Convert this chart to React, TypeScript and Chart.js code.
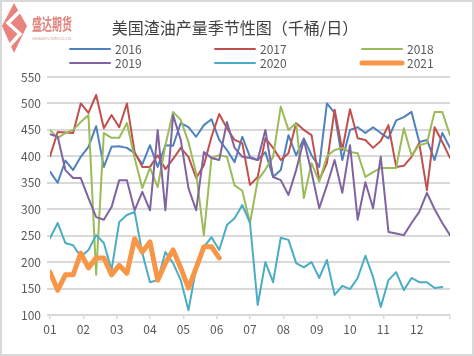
import React, { useEffect, useRef } from "react";
import { Chart, registerables } from "chart.js";

Chart.register(...registerables);

const TITLE = "美国渣油产量季节性图（千桶/日）";
const LOGO_CN = "盛达期货";
const LOGO_EN = "SHENGDA FUTURES CO.,LTD.";
const MONTHS = ["01", "02", "03", "04", "05", "06", "07", "08", "09", "10", "11", "12"];
const WEEKS_PER_YEAR = 52;
const Y_TICKS = { min: 100, max: 550, step: 50 };

const YEARS = ["2016", "2017", "2018", "2019", "2020", "2021"];
const COLORS = ["#4F81BD", "#C0504D", "#9BBB59", "#8064A2", "#4BACC6", "#F79646"];

const S2016 = [371, 350, 392, 374, 399, 418, 457, 380, 418, 419, 416, 406, 385, 421, 380, 421, 420, 463, 455, 437, 459, 470, 431, 412, 389, 437, 399, 393, 408, 361, 374, 440, 402, 434, 402, 380, 500, 482, 393, 450, 455, 444, 455, 444, 434, 468, 474, 484, 427, 431, 393, 444, 416];
const S2017 = [400, 446, 445, 444, 500, 482, 516, 453, 478, 455, 500, 408, 380, 380, 402, 376, 395, 416, 399, 359, 383, 437, 480, 453, 431, 425, 346, 361, 434, 416, 393, 406, 463, 450, 440, 355, 387, 488, 412, 489, 434, 431, 416, 429, 459, 380, 382, 399, 425, 336, 455, 427, 397];
const S2018 = [450, 435, 444, 450, 465, 478, 176, 444, 435, 435, 463, 397, 340, 378, 342, 421, 484, 469, 427, 368, 251, 397, 402, 399, 345, 335, 274, 355, 375, 399, 494, 450, 463, 321, 387, 352, 400, 412, 416, 408, 406, 361, 370, 378, 378, 378, 453, 402, 421, 425, 484, 484, 440];
const S2019 = [442, 437, 374, 359, 359, 321, 285, 280, 304, 355, 355, 298, 333, 298, 450, 298, 478, 431, 340, 298, 408, 397, 393, 465, 416, 399, 397, 393, 450, 361, 355, 327, 374, 431, 370, 302, 345, 393, 331, 421, 280, 351, 302, 399, 257, 254, 251, 274, 295, 331, 300, 274, 251];
const S2020 = [245, 274, 236, 232, 210, 223, 251, 236, 185, 276, 289, 295, 217, 162, 166, 219, 198, 166, 109, 189, 229, 247, 223, 270, 283, 308, 274, 119, 200, 162, 246, 242, 198, 190, 200, 170, 204, 138, 155, 149, 170, 212, 172, 115, 166, 181, 147, 170, 162, 162, 151, 153];
const S2021 = [181, 147, 176, 176, 217, 189, 208, 208, 176, 194, 179, 244, 219, 238, 166, 198, 223, 189, 151, 189, 229, 229, 208];

const SERIES = [S2016, S2017, S2018, S2019, S2020, S2021];
const WIDTHS = [2, 2, 2, 2, 2, 5];

const FONT = "'Noto Sans CJK SC', 'Noto Sans', sans-serif";

const decorPlugin = {
  id: "decor",
  afterDraw(chart: any) {
    const ctx = chart.ctx as CanvasRenderingContext2D;
    ctx.save();
    // logo diamond
    ctx.fillStyle = "#E8837D";
    ctx.beginPath();
    ctx.moveTo(12, 1);
    ctx.lineTo(25, 24);
    ctx.lineTo(12, 51);
    ctx.lineTo(0, 24);
    ctx.closePath();
    ctx.fill();
    ctx.strokeStyle = "#ffffff";
    ctx.lineWidth = 3.5;
    ctx.beginPath();
    ctx.moveTo(18, 9);
    ctx.lineTo(6, 21);
    ctx.lineTo(18, 32);
    ctx.lineTo(7, 44);
    ctx.stroke();
    // logo text
    ctx.fillStyle = "#E0837D";
    ctx.font = `bold 16px ${FONT}`;
    ctx.textBaseline = "middle";
    ctx.textAlign = "left";
    ctx.fillText(LOGO_CN, 30, 22, 40);
    ctx.font = `4px ${FONT}`;
    ctx.fillStyle = "#C99";
    ctx.fillText(LOGO_EN, 30, 36, 40);
    // title
    ctx.fillStyle = "#404040";
    ctx.font = `16px ${FONT}`;
    ctx.textAlign = "center";
    ctx.fillText(TITLE, 233, 26);
    // legend
    const colX = [68, 213, 360];
    const rowY = [47, 61];
    ctx.font = `12px ${FONT}`;
    ctx.textAlign = "left";
    YEARS.forEach((yr, i) => {
      const x = colX[i % 3];
      const y = rowY[Math.floor(i / 3)];
      ctx.strokeStyle = COLORS[i];
      ctx.lineWidth = WIDTHS[i];
      ctx.lineCap = "round";
      ctx.beginPath();
      ctx.moveTo(x, y);
      ctx.lineTo(x + 40, y);
      ctx.stroke();
      ctx.fillStyle = "#595959";
      ctx.fillText(yr, x + 45, y);
    });
    ctx.restore();
  },
};

export default function App() {
  const ref = useRef<HTMLCanvasElement>(null);
  useEffect(() => {
    if (!ref.current) return;
    const datasets = SERIES.map((s, i) => ({
      label: YEARS[i],
      data: s.map((v, k) => ({ x: k, y: v })),
      borderColor: COLORS[i],
      backgroundColor: COLORS[i],
      borderWidth: WIDTHS[i],
      pointRadius: 0,
      tension: 0,
      fill: false,
      borderCapStyle: "round" as const,
      borderJoinStyle: "round" as const,
      order: SERIES.length - i,
    }));
    const chart = new Chart(ref.current, {
      type: "line",
      data: { datasets },
      plugins: [decorPlugin],
      options: {
        animation: false,
        responsive: false,
        layout: { padding: { top: 75, right: 22, bottom: 0, left: 0 } },
        plugins: { legend: { display: false }, title: { display: false }, tooltip: { enabled: false } },
        scales: {
          x: {
            type: "linear",
            min: 0,
            max: WEEKS_PER_YEAR,
            afterBuildTicks: (axis: any) => {
              const t = MONTHS.map((_, k) => ({ value: (k * WEEKS_PER_YEAR) / MONTHS.length }));
              t.push({ value: WEEKS_PER_YEAR });
              axis.ticks = t;
            },
            afterFit: (axis: any) => {
              axis.height = 39;
            },
            ticks: {
              autoSkip: false,
              maxRotation: 0,
              padding: 3,
              color: "#595959",
              font: { family: FONT, size: 12 },
              callback: (_v: any, idx: number) => MONTHS[idx] ?? "",
            },
            grid: { drawOnChartArea: false, drawTicks: true, tickLength: 4, color: "#D9D9D9", lineWidth: 1.5 },
            border: { display: true, color: "#D9D9D9", width: 2 },
          },
          y: {
            type: "linear",
            min: Y_TICKS.min,
            max: Y_TICKS.max,
            afterFit: (axis: any) => {
              axis.width = 48;
            },
            ticks: {
              stepSize: Y_TICKS.step,
              padding: 6,
              color: "#595959",
              font: { family: FONT, size: 12 },
            },
            grid: { color: "#D9D9D9", lineWidth: 2, tickLength: 3 },
            border: { display: false },
          },
        },
      },
    });
    return () => chart.destroy();
  }, []);
  return (
    <div
      style={{
        position: "fixed",
        left: 0,
        top: 0,
        width: 474,
        height: 356,
        boxSizing: "border-box",
        border: "2px solid #D9D9D9",
        background: "#fff",
      }}
    >
      <canvas ref={ref} width={470} height={352} style={{ display: "block", width: 470, height: 352 }} />
    </div>
  );
}
